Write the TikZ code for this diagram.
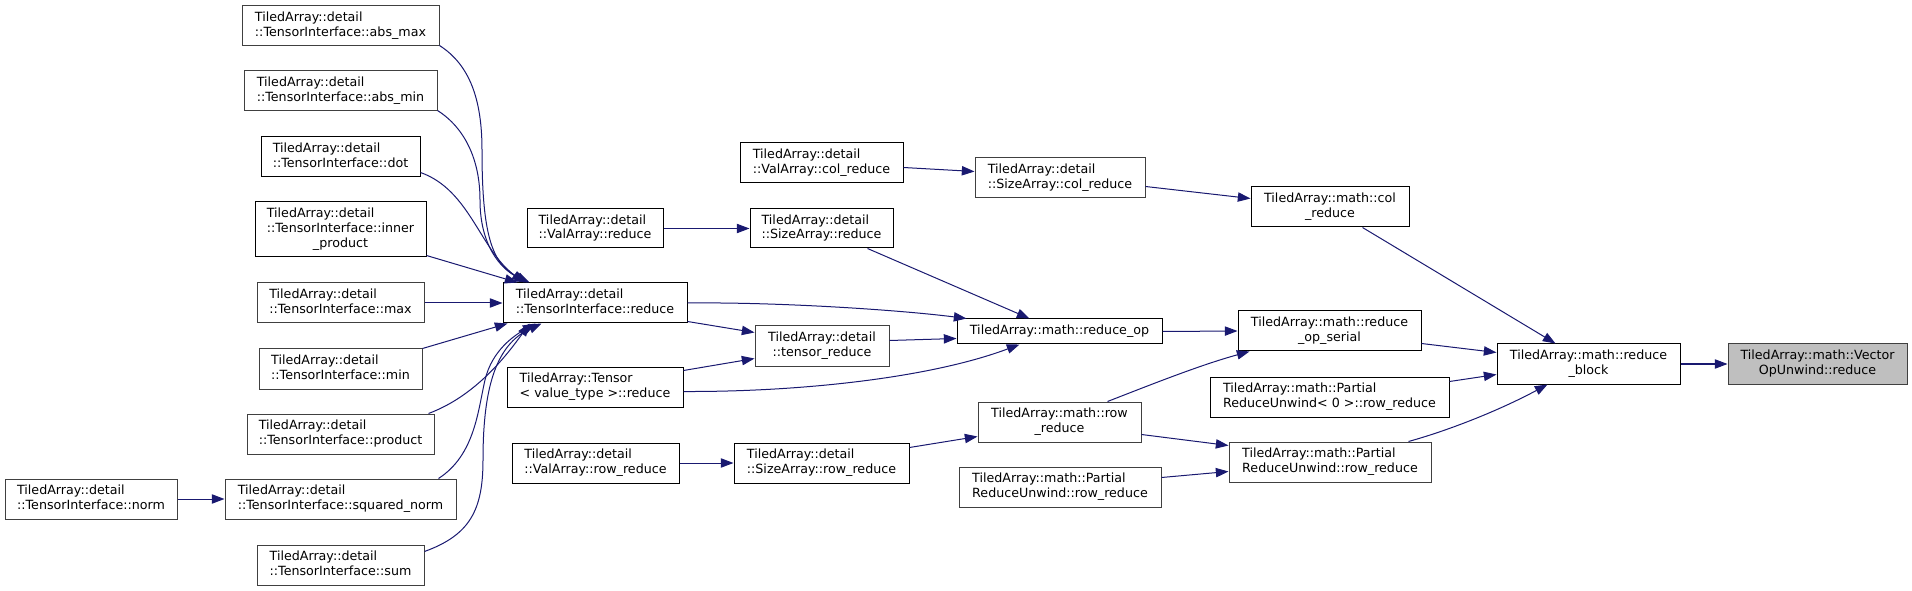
\documentclass[tikz,border=0pt]{standalone}
\usepackage{fontspec}
\setmainfont{DejaVu Sans}
\usetikzlibrary{arrows.meta,calc}
\definecolor{edgeblue}{HTML}{191970}
\definecolor{boxgray}{HTML}{404040}
\definecolor{rootfill}{HTML}{BFBFBF}
\newcommand\lbtwo[2]{\begin{tabular}{@{}l@{}}#1\\\multicolumn{1}{@{}c@{}}{#2}\end{tabular}}
\newcommand\lbthree[3]{\begin{tabular}{@{}l@{}}#1\\#2\\\multicolumn{1}{@{}c@{}}{#3}\end{tabular}}
\tikzset{
  nb/.style={draw=black, line width=0.75pt, fill=white, inner sep=0pt, rectangle,
    font=\fontsize{9.5}{11}\selectfont},
  ng/.style={nb, draw=boxgray},
  sz/.style 2 args={minimum width=#1*0.75pt, minimum height=#2*0.75pt},
  edge/.style={draw=edgeblue, line width=0.75pt,
    -{Triangle[length=9.5pt,width=7pt,fill=edgeblue]}},
}
\begin{document}
\begin{tikzpicture}[x=0.75pt,y=-0.75pt]
\useasboundingbox (0,0) rectangle (1912,591);
% left column
\node[ng, sz={197}{40}] (amax) at (340.5,26) {\lbtwo{TiledArray::detail}{::TensorInterface::abs\_max}};
\node[ng, sz={193}{40}] (amin) at (340.5,91) {\lbtwo{TiledArray::detail}{::TensorInterface::abs\_min}};
\node[nb, sz={159}{40}] (dot) at (340.5,157) {\lbtwo{TiledArray::detail}{::TensorInterface::dot}};
\node[nb, sz={171}{55}] (inner) at (340.5,229.5) {\lbthree{TiledArray::detail}{::TensorInterface::inner}{\_product}};
\node[ng, sz={167}{40}] (max) at (340.5,303) {\lbtwo{TiledArray::detail}{::TensorInterface::max}};
\node[ng, sz={163}{40}] (min) at (340.5,369) {\lbtwo{TiledArray::detail}{::TensorInterface::min}};
\node[ng, sz={187}{40}] (prod) at (340.5,434) {\lbtwo{TiledArray::detail}{::TensorInterface::product}};
\node[ng, sz={172}{40}] (norm) at (91,499) {\lbtwo{TiledArray::detail}{::TensorInterface::norm}};
\node[ng, sz={231}{40}] (sqn) at (340.5,499) {\lbtwo{TiledArray::detail}{::TensorInterface::squared\_norm}};
\node[ng, sz={167}{40}] (sum) at (340.5,565) {\lbtwo{TiledArray::detail}{::TensorInterface::sum}};
% middle
\node[nb, sz={163}{40}] (vcol) at (821.5,163) {\lbtwo{TiledArray::detail}{::ValArray::col\_reduce}};
\node[nb, sz={136}{39}] (vred) at (595,228.5) {\lbtwo{TiledArray::detail}{::ValArray::reduce}};
\node[nb, sz={143}{39}] (sred) at (821.5,228.5) {\lbtwo{TiledArray::detail}{::SizeArray::reduce}};
\node[nb, sz={184}{40}] (tired) at (595,303) {\lbtwo{TiledArray::detail}{::TensorInterface::reduce}};
\node[ng, sz={134}{40}] (tred) at (822,346) {\lbtwo{TiledArray::detail}{::tensor\_reduce}};
\node[nb, sz={176}{40}] (tens) at (595,387) {\lbtwo{TiledArray::Tensor}{< value\_type >::reduce}};
\node[nb, sz={167}{40}] (vrow) at (595.5,463) {\lbtwo{TiledArray::detail}{::ValArray::row\_reduce}};
\node[nb, sz={175}{40}] (srow) at (821.5,463) {\lbtwo{TiledArray::detail}{::SizeArray::row\_reduce}};
% right
\node[ng, sz={170}{40}] (scol) at (1060,178) {\lbtwo{TiledArray::detail}{::SizeArray::col\_reduce}};
\node[nb, sz={158}{40}] (mcol) at (1330,207) {\lbtwo{TiledArray::math::col}{\_reduce}};
\node[nb, sz={205}{25}] (rop) at (1059.5,331.5) {TiledArray::math::reduce\_op};
\node[nb, sz={183}{40}] (rser) at (1329.5,331) {\lbtwo{TiledArray::math::reduce}{\_op\_serial}};
\node[nb, sz={239}{40}] (pru0) at (1329.5,397) {\lbtwo{TiledArray::math::Partial}{ReduceUnwind< 0 >::row\_reduce}};
\node[ng, sz={163}{40}] (mrow) at (1059.5,422) {\lbtwo{TiledArray::math::row}{\_reduce}};
\node[ng, sz={202}{40}] (prur) at (1330,462) {\lbtwo{TiledArray::math::Partial}{ReduceUnwind::row\_reduce}};
\node[ng, sz={202}{40}] (prul) at (1060,487) {\lbtwo{TiledArray::math::Partial}{ReduceUnwind::row\_reduce}};
\node[nb, sz={183}{40}] (rblk) at (1588.5,364) {\lbtwo{TiledArray::math::reduce}{\_block}};
\node[ng, sz={179}{40}, fill=rootfill] (vop) at (1817.5,364) {\lbtwo{TiledArray::math::Vector}{OpUnwind::reduce}};
% fan-in to TensorInterface::reduce
\draw[edge] ($(amax.south east)+(0,-1)$) .. controls (470,65) and (482,100) .. (482,150) .. controls (482,235) and (492,265) .. ($(tired.north west)+(27,0)$);
\draw[edge] ($(amin.south east)+(0,-1)$) .. controls (465,128) and (480,160) .. (480,200) .. controls (480,245) and (500,268) .. ($(tired.north west)+(25,0)$);
\draw[edge] ($(dot.south east)+(0,-5)$) .. controls (470,190) and (480,250) .. ($(tired.north west)+(22,0)$);
\draw[edge] ($(inner.south east)+(0,-2)$) -- ($(tired.north west)+(15,0)$);
\draw[edge] (max.east) -- (tired.west);
\draw[edge] (min.north east) -- ($(tired.south west)+(5,0)$);
\draw[edge] ($(prod.north east)+(-6,0)$) .. controls (470,398) and (500,365) .. ($(tired.south west)+(27,0)$);
\draw[edge] ($(sqn.north east)+(-18,0)$) .. controls (475,455) and (478,410) .. (485,380) .. controls (492,350) and (515,335) .. ($(tired.south west)+(33,0)$);
\draw[edge] ($(sum.north east)+(0,7)$) .. controls (470,535) and (483,510) .. (483,460) .. controls (483,390) and (495,345) .. ($(tired.south west)+(39,0)$);
\draw[edge] (norm.east) -- (sqn.west);
% middle edges
\draw[edge] ($(vcol.north east)+(0,25)$) -- ($(scol.north west)+(0,14)$);
\draw[edge] (vred.east) -- (sred.west);
\draw[edge] ($(sred.south west)+(118,0)$) -- ($(rop.north west)+(73,0)$);
\draw[edge] (tired.east) .. controls (780,302) and (900,310) .. ($(rop.north west)+(10,0)$);
\draw[edge] ($(tred.north east)+(0,15)$) -- ($(rop.north west)+(0,20)$);
\draw[edge] ($(tens.south east)+(0,-16)$) .. controls (800,392) and (930,378) .. ($(rop.south west)+(63,0)$);
\draw[edge] ($(tired.south east)+(0,-2)$) -- ($(tred.north west)+(0,7)$);
\draw[edge] ($(tens.north east)+(0,4)$) -- ($(tred.north west)+(0,33)$);
\draw[edge] (vrow.east) -- (srow.west);
\draw[edge] ($(srow.north east)+(0,5)$) -- ($(mrow.north west)+(0,35)$);
% right edges
\draw[edge] ($(scol.north east)+(0,29)$) -- ($(mcol.north west)+(0,12)$);
\draw[edge] (rop.east) -- (rser.west);
\draw[edge] ($(mrow.north west)+(130,0)$) .. controls (1150,385) and (1200,365) .. ($(rser.south west)+(12,0)$);
\draw[edge] ($(mrow.south east)+(0,-8)$) -- ($(prur.north west)+(0,4)$);
\draw[edge] ($(prul.north east)+(0,11)$) -- ($(prur.north west)+(0,30)$);
\draw[edge] ($(rser.south east)+(0,-8)$) -- ($(rblk.north west)+(0,9)$);
\draw[edge] ($(pru0.north east)+(0,5)$) -- ($(rblk.north west)+(0,31)$);
\draw[edge] ($(prur.north east)+(-23,0)$) .. controls (1450,430) and (1500,410) .. ($(rblk.south west)+(51,0)$);
\draw[edge] ($(mcol.south west)+(112,0)$) -- ($(rblk.north west)+(59,0)$);
\draw[edge] (rblk.east) -- (vop.west);
\end{tikzpicture}
\end{document}
